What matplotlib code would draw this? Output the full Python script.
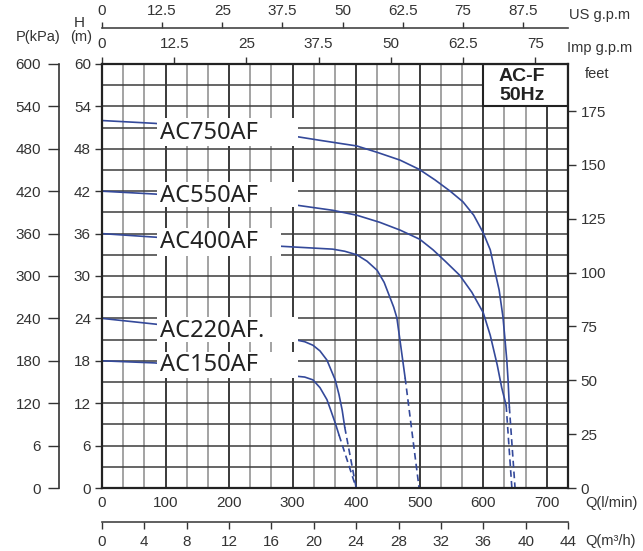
import numpy as np
import matplotlib.pyplot as plt
from matplotlib.patches import Rectangle

plt.rcParams["font.family"] = ["Liberation Sans", "DejaVu Sans"]

# pump curves: Q in l/min, H in m. solid part, then dashed tail
models = ["AC750AF", "AC550AF", "AC400AF", "AC220AF.", "AC150AF"]

q_750 = [0, 83, 308, 343, 401, 433, 469, 499, 524, 548, 568, 585, 600,
         611, 618, 625, 631, 634, 637, 639, 641]
h_750 = [52.0, 51.6, 49.7, 49.2, 48.4, 47.5, 46.4, 45.1, 43.6, 42.0, 40.5, 38.6, 36.1,
         33.7, 30.8, 28.0, 24.2, 21.2, 18.1, 15.3, 11.5]
q_750_tail = [641, 650]
h_750_tail = [11.5, 0]

q_550 = [0, 83, 308, 363, 401, 437, 469, 500, 521, 540, 563, 582, 600,
         611, 622, 629, 636]
h_550 = [42.0, 41.6, 40.0, 39.3, 38.6, 37.6, 36.5, 35.2, 33.7, 32.1, 30.1, 27.7, 24.8,
         21.6, 17.4, 14.2, 11.7]
q_550_tail = [636, 645]
h_550_tail = [11.7, 0]

q_400 = [0, 83, 283, 363, 382, 401, 417, 433, 444, 453, 459, 464, 470, 477]
h_400 = [36.0, 35.5, 34.2, 33.8, 33.5, 33.0, 32.1, 30.8, 29.1, 27.0, 25.6, 24.1, 20.2, 15.6]
q_400_tail = [477, 499]
h_400_tail = [15.6, 0]

q_220 = [0, 83, 308, 319, 332, 343, 354, 360, 367, 373, 378, 382]
h_220 = [24.0, 23.2, 20.9, 20.7, 20.2, 19.4, 18.1, 16.8, 15.3, 13.2, 11.0, 8.6]
q_220_tail = [382, 400]
h_220_tail = [8.6, 0]

q_150 = [0, 83, 308, 319, 332, 343, 354, 360, 367, 373]
h_150 = [18.0, 17.7, 15.8, 15.7, 15.3, 14.2, 12.5, 11.0, 9.2, 7.5]
q_150_tail = [373, 400]
h_150_tail = [7.5, 0]

curves = [
    (q_750, h_750, q_750_tail, h_750_tail),
    (q_550, h_550, q_550_tail, h_550_tail),
    (q_400, h_400, q_400_tail, h_400_tail),
    (q_220, h_220, q_220_tail, h_220_tail),
    (q_150, h_150, q_150_tail, h_150_tail),
]

# tick values of the different scales
h_ticks = list(range(0, 61, 6))
kpa_ticks = list(range(0, 601, 60))
kpa_labels = ["0", "6", "120", "180", "240", "300", "360", "420", "480", "540", "600"]
feet_ticks = list(range(0, 176, 25))
lpm_ticks = list(range(0, 701, 100))
m3h_ticks = list(range(0, 45, 4))
imp_ticks = [0, 12.5, 25, 37.5, 50, 62.5, 75]
us_ticks = [0, 12.5, 25, 37.5, 50, 62.5, 75, 87.5]

# label placement (baseline in m) and white boxes behind them
label_base = [49.4, 40.5, 34.0, 21.4, 16.6]
box_bottom = [48.4, 39.8, 32.8, 20.7, 15.6]
box_top = [52.4, 43.3, 36.8, 24.2, 19.2]
box_right = [308, 308, 282, 308, 308]

LPM_PER_M3H = 1000 / 60
IMP = 9.092   # scale as printed on the chart
US = 7.571
FT = 3.2808

W, H = 643, 551
TXT = "#333333"
BLUE = "#34499a"


def fx(px):
    return px / W


def fy(py):
    return 1 - py / H


fig = plt.figure(figsize=(W / 100, H / 100), dpi=100)
ax = fig.add_axes([fx(102), fy(488), 466 / W, 424 / H])
ax.set_xlim(0, 44 * LPM_PER_M3H)
ax.set_ylim(0, 60)

# grid: every 2 m3/h and every 3 m
for q in np.arange(0, 734, 100 / 3)[1:]:
    dark = round(q) % 100 == 0
    ax.axvline(q, color="#2b2b2b" if dark else "#9c9c9c", lw=1.3, zorder=1)
for h in np.arange(3, 60, 3):
    ax.axhline(h, color="#3c3c3c", lw=1.1, zorder=1)

for q, h, qt, ht in curves:
    ax.plot(q, h, color=BLUE, lw=1.2, zorder=2, solid_joinstyle="round")
    ax.plot(qt, ht, color=BLUE, lw=1.2, ls=(0, (4, 2.5)), zorder=2)

for name, yb, b0, b1, xr in zip(models, label_base, box_bottom, box_top, box_right):
    ax.add_patch(Rectangle((86.5, b0), xr - 86.5, b1 - b0, facecolor="white",
                           edgecolor="none", zorder=3))
    ax.text(91, yb, name, family="Noto Sans", fontsize=17, color="#222222",
            va="baseline", ha="left", zorder=4)

ax.add_patch(Rectangle((600, 54), 44 * LPM_PER_M3H - 600, 6, facecolor="white",
                       edgecolor="#222222", lw=1.5, zorder=3))
ax.text(661, 58.3, "AC-F", fontsize=14, fontweight="bold", ha="center", va="center",
        color="#222222", zorder=4)
ax.text(661, 55.5, "50Hz", fontsize=14, fontweight="bold", ha="center", va="center",
        color="#222222", zorder=4)

for s in ax.spines.values():
    s.set_linewidth(1.6)
    s.set_color("#222222")
    s.set_zorder(5)

ax.set_yticks(h_ticks)
ax.set_xticks(lpm_ticks)
ax.tick_params(axis="y", direction="out", length=5, width=1, pad=3,
               labelsize=11, colors=TXT)
ax.tick_params(axis="x", direction="out", length=0, pad=6,
               labelsize=11, colors=TXT)

# feet on the right
ax_ft = ax.secondary_yaxis("right", functions=(lambda m: m * FT, lambda f: f / FT))
ax_ft.set_yticks(feet_ticks)
ax_ft.tick_params(direction="out", length=6, width=1, pad=3, labelsize=11, colors=TXT)
ax_ft.spines["right"].set_visible(False)

# kPa on the far left
ax_p = ax.secondary_yaxis(-43 / 466, functions=(lambda m: m * 10, lambda p: p / 10))
ax_p.set_yticks(kpa_ticks, kpa_labels)
ax_p.tick_params(direction="out", length=8, width=1, pad=5, labelsize=11, colors=TXT)
ax_p.spines["left"].set_linewidth(1.2)
ax_p.spines["left"].set_color("#333333")

# Imp g.p.m on top spine
ax_imp = ax.secondary_xaxis("top", functions=(lambda q: q / IMP, lambda g: g * IMP))
ax_imp.set_xticks(imp_ticks, [f"{v:g}" for v in imp_ticks])
ax_imp.tick_params(direction="out", length=5, width=1, pad=4, labelsize=11, colors=TXT)
ax_imp.spines["top"].set_visible(False)

# US g.p.m above
ax_us = ax.secondary_xaxis(1 + 36 / 424, functions=(lambda q: q / US, lambda g: g * US))
ax_us.set_xticks(us_ticks, [f"{v:g}" for v in us_ticks])
ax_us.tick_params(direction="out", length=4, width=1, pad=3, labelsize=11, colors=TXT)
ax_us.spines["top"].set_linewidth(1.2)
ax_us.spines["top"].set_color("#444444")

# m3/h below
ax_m3 = ax.secondary_xaxis(-34 / 424, functions=(lambda q: q / LPM_PER_M3H,
                                                 lambda m: m * LPM_PER_M3H))
ax_m3.set_xticks(m3h_ticks)
ax_m3.tick_params(direction="out", length=5, width=1, pad=4, labelsize=11, colors=TXT)
ax_m3.spines["bottom"].set_linewidth(1.2)
ax_m3.spines["bottom"].set_color("#444444")

kw = dict(fontsize=10.5, color=TXT, va="center")
fig.text(fx(79), fy(23), "H", ha="center", fontsize=11, color=TXT, va="center")
fig.text(fx(81), fy(37), "(m)", ha="center", **kw)
fig.text(fx(38), fy(37), "P(kPa)", ha="center", **kw)
fig.text(fx(569), fy(15), "US g.p.m", ha="left", **kw)
fig.text(fx(567), fy(48), "Imp g.p.m", ha="left", **kw)
fig.text(fx(597), fy(74), "feet", ha="center", **kw)
fig.text(fx(585), fy(503), "Q(l/min)", ha="left", **kw)
fig.text(fx(585), fy(541), "Q(m³/h)", ha="left", **kw)

fig.savefig("out.png", dpi=100)
